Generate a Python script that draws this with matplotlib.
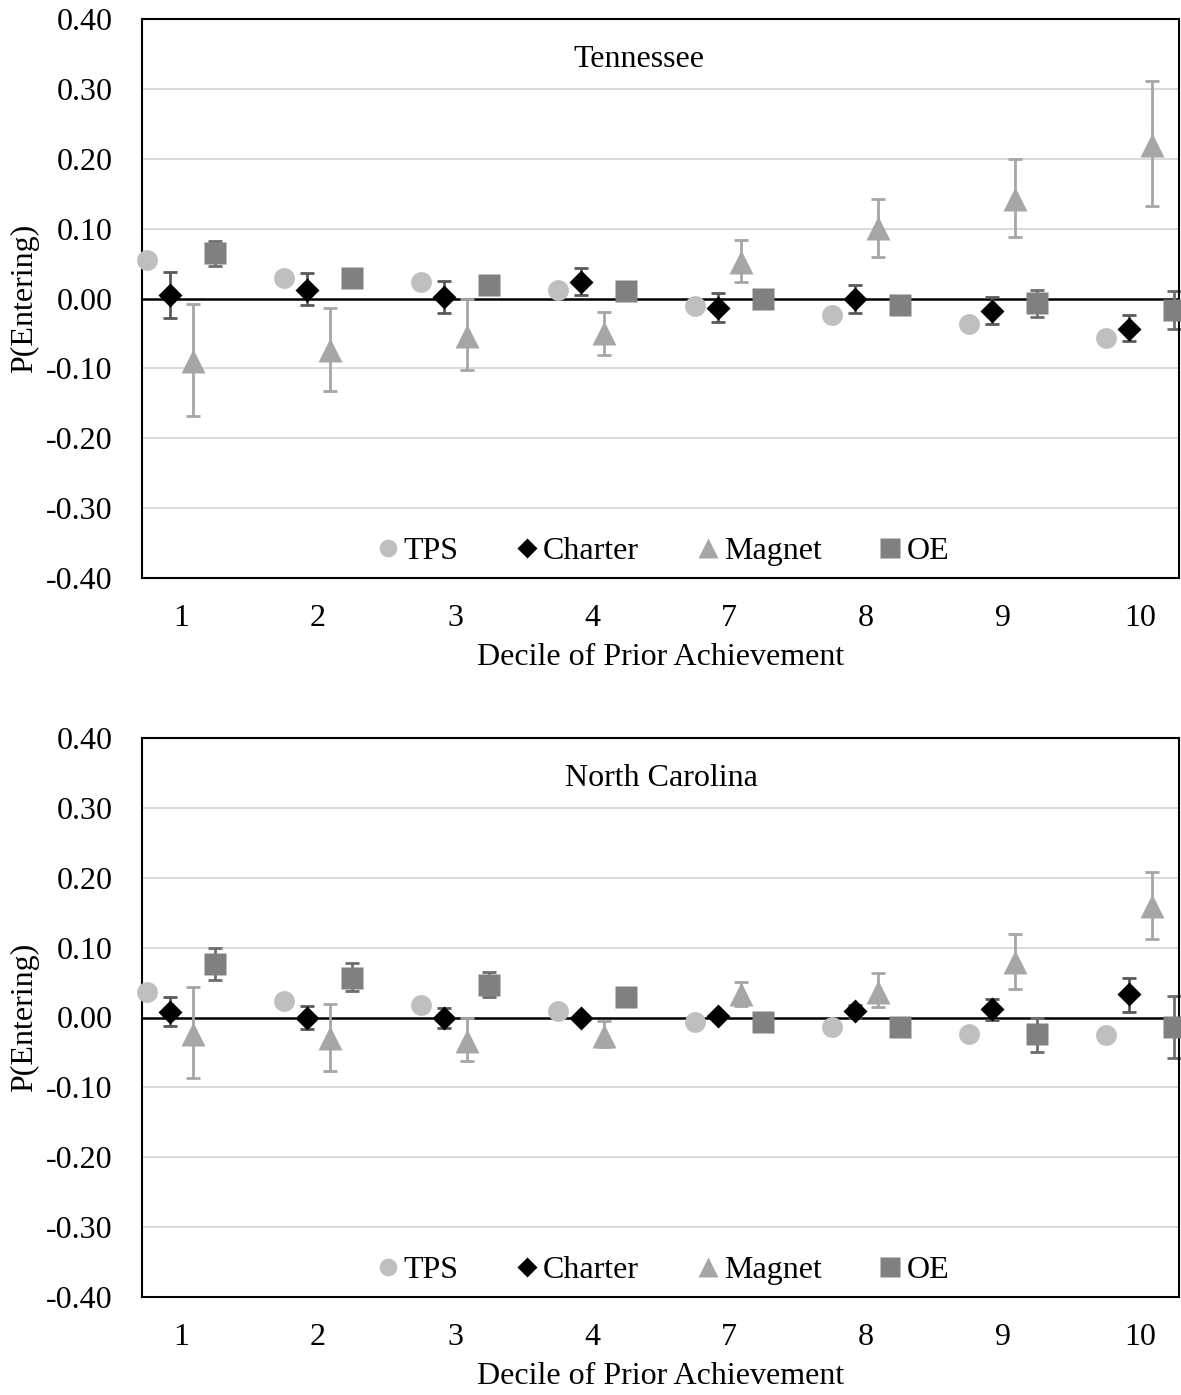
import numpy as np
import matplotlib
matplotlib.use('Agg')
import matplotlib.pyplot as plt

deciles = ['1', '2', '3', '4', '7', '8', '9', '10']
y_ticks = [-0.4, -0.3, -0.2, -0.1, 0.0, 0.1, 0.2, 0.3, 0.4]

# Tennessee
tn_tps = [0.055, 0.030, 0.024, 0.012, -0.011, -0.023, -0.036, -0.056]
tn_charter = [0.005, 0.012, 0.002, 0.024, -0.013, -0.001, -0.018, -0.043]
tn_charter_lo = [-0.028, -0.009, -0.021, 0.005, -0.034, -0.021, -0.036, -0.061]
tn_charter_hi = [0.038, 0.036, 0.025, 0.044, 0.008, 0.019, 0.002, -0.023]
tn_magnet = [-0.090, -0.074, -0.054, -0.049, 0.052, 0.101, 0.143, 0.220]
tn_magnet_lo = [-0.168, -0.133, -0.103, -0.081, 0.024, 0.060, 0.088, 0.132]
tn_magnet_hi = [-0.008, -0.013, 0.000, -0.020, 0.084, 0.142, 0.200, 0.311]
tn_oe = [0.065, 0.029, 0.020, 0.011, -0.001, -0.010, -0.007, -0.016]
tn_oe_lo = [0.047, 0.027, 0.018, 0.009, -0.003, -0.012, -0.026, -0.044]
tn_oe_hi = [0.083, 0.031, 0.022, 0.013, 0.001, -0.008, 0.012, 0.011]

# North Carolina
nc_tps = [0.036, 0.024, 0.018, 0.010, -0.006, -0.014, -0.024, -0.025]
nc_charter = [0.008, 0.000, -0.001, 0.000, 0.002, 0.009, 0.012, 0.033]
nc_charter_lo = [-0.012, -0.016, -0.015, -0.003, -0.001, 0.000, -0.003, 0.008]
nc_charter_hi = [0.030, 0.016, 0.013, 0.003, 0.005, 0.018, 0.026, 0.057]
nc_magnet = [-0.024, -0.030, -0.033, -0.026, 0.033, 0.037, 0.079, 0.159]
nc_magnet_lo = [-0.086, -0.077, -0.062, -0.042, 0.016, 0.015, 0.041, 0.112]
nc_magnet_hi = [0.043, 0.019, -0.001, -0.005, 0.051, 0.063, 0.119, 0.208]
nc_oe = [0.077, 0.057, 0.047, 0.030, -0.006, -0.014, -0.024, -0.014]
nc_oe_lo = [0.053, 0.038, 0.029, 0.028, -0.008, -0.018, -0.049, -0.058]
nc_oe_hi = [0.100, 0.078, 0.065, 0.032, -0.004, -0.010, 0.000, 0.031]

plt.rcParams['font.family'] = ['Liberation Serif', 'DejaVu Serif']
FS = 23

def yerr(vals, lo, hi):
	v = np.array(vals); return np.array([v - np.array(lo), np.array(hi) - v])

def draw_panel(ax, title, title_x, tps, charter, c_lo, c_hi, magnet, m_lo, m_hi, oe, o_lo, o_hi):
	x = np.arange(len(deciles))
	for yv in y_ticks[1:-1]:
		if yv != 0:
			ax.axhline(yv, color='#D9D9D9', lw=1.4, zorder=0)
	ax.axhline(0, color='black', lw=1.8, zorder=1)

	# error bars sit behind the markers
	ebar = dict(fmt='none', elinewidth=2, capsize=5, capthick=2, zorder=2, clip_on=False)
	ax.errorbar(x - 0.08, charter, yerr=yerr(charter, c_lo, c_hi), ecolor='#595959', **ebar)
	ax.errorbar(x + 0.09, magnet, yerr=yerr(magnet, m_lo, m_hi), ecolor='#A6A6A6', **ebar)
	ax.errorbar(x + 0.25, oe, yerr=yerr(oe, o_lo, o_hi), ecolor='#6E6E6E', **ebar)

	ax.plot(x - 0.25, tps, 'o', ms=15, color='#BFBFBF', mec='none', label='TPS', zorder=3, clip_on=False)
	ax.plot(x - 0.08, charter, 'D', ms=12.5, color='black', mec='none', label='Charter', zorder=3, clip_on=False)
	ax.plot(x + 0.09, magnet, '^', ms=17, color='#A6A6A6', mec='none', label='Magnet', zorder=3, clip_on=False)
	ax.plot(x + 0.25, oe, 's', ms=16.5, color='#808080', mec='none', label='OE', zorder=3, clip_on=False)

	ax.set_xlim(-0.285, 7.285)
	ax.set_ylim(-0.4, 0.4)
	ax.set_yticks(y_ticks)
	ax.set_yticklabels(['%.2f' % v for v in y_ticks])
	ax.set_xticks(x)
	ax.set_xticklabels(deciles)
	ax.tick_params(length=0, labelsize=FS)
	ax.tick_params(axis='y', pad=21)
	ax.tick_params(axis='x', pad=19)
	for s in ax.spines.values():
		s.set_linewidth(1.5)

	ax.text(title_x, 0.927, title, transform=ax.transAxes, ha='center', va='center', fontsize=FS)
	ax.set_xlabel('Decile of Prior Achievement', fontsize=FS, va='center')
	ax.xaxis.set_label_coords(0.5, -0.143)
	ax.set_ylabel('P(Entering)', fontsize=FS, va='center')
	ax.yaxis.set_label_coords(-0.113, 0.5)

	ax.legend(ncol=4, frameon=False, loc='center', bbox_to_anchor=(0.503, 0.047), fontsize=FS,
		handlelength=0.6, handletextpad=0.2, columnspacing=1.85, markerscale=0.85, borderpad=0)

fig = plt.figure(figsize=(11.81, 13.95), dpi=100)
ax1 = fig.add_axes([142/1181., (1395-578)/1395., (1179-142)/1181., 559/1395.])
ax2 = fig.add_axes([142/1181., (1395-1297)/1395., (1179-142)/1181., 559/1395.])

draw_panel(ax1, 'Tennessee', 0.479, tn_tps, tn_charter, tn_charter_lo, tn_charter_hi,
	tn_magnet, tn_magnet_lo, tn_magnet_hi, tn_oe, tn_oe_lo, tn_oe_hi)
draw_panel(ax2, 'North Carolina', 0.501, nc_tps, nc_charter, nc_charter_lo, nc_charter_hi,
	nc_magnet, nc_magnet_lo, nc_magnet_hi, nc_oe, nc_oe_lo, nc_oe_hi)

fig.savefig('out.png', dpi=100)
